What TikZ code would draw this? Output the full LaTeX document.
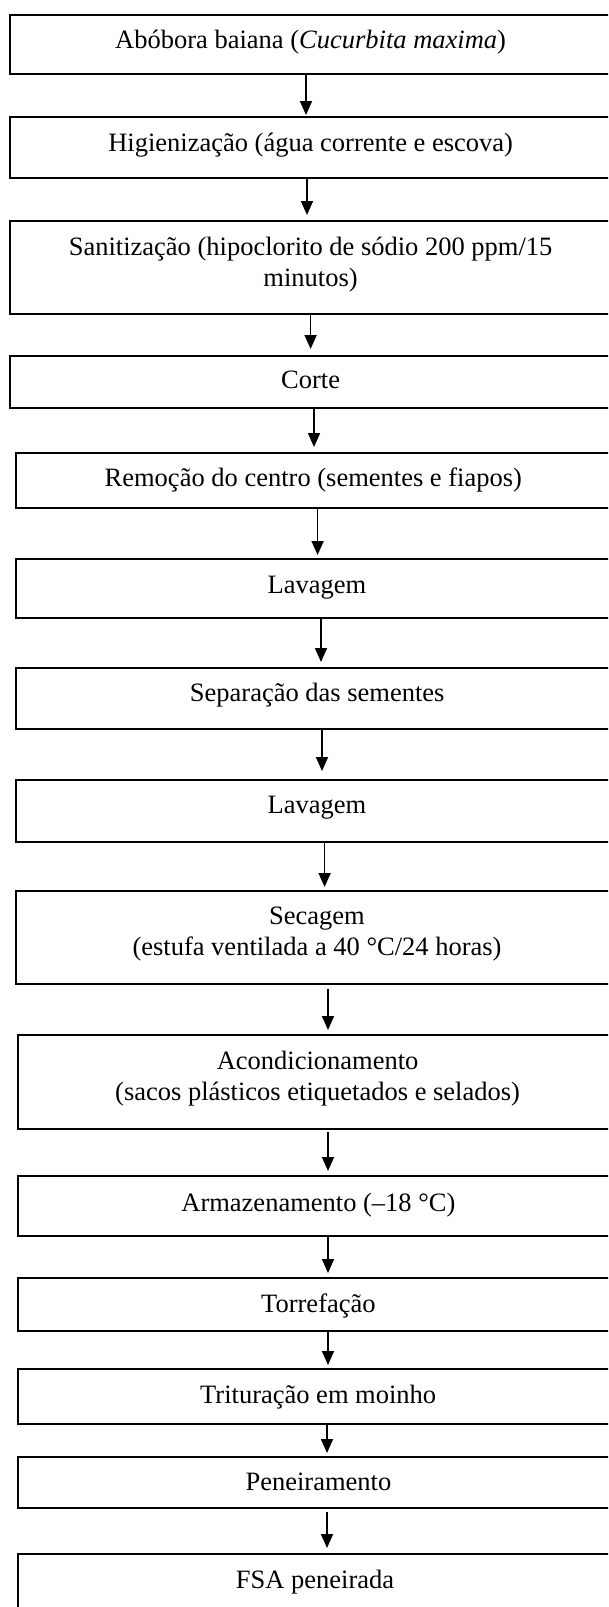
\documentclass[tikz,border=0pt]{standalone}
\usepackage{fontspec}
\setmainfont{Liberation Serif}
\usetikzlibrary{arrows.meta}
\begin{document}
\begin{tikzpicture}[x=1pt,y=-1pt,
  box/.style={draw=black, line width=1.7pt, anchor=north west, inner sep=0pt, minimum width=640pt},
  lbl/.style={anchor=base, inner sep=0pt, align=center, font=\fontsize{26.5}{31}\selectfont},
  arr/.style={line width=1.7pt, -{Triangle[length=14pt,width=12pt]}}]
\useasboundingbox (0,0) rectangle (608,1607);
\clip (0,0) rectangle (608,1607);
% boxes
\node[box, minimum height=59pt] (b1) at (9,14) {};
\node[box, minimum height=61pt] (b2) at (9,116) {};
\node[box, minimum height=93pt] (b3) at (9,220) {};
\node[box, minimum height=52pt] (b4) at (9,355) {};
\node[box, minimum height=55pt] (b5) at (15,452) {};
\node[box, minimum height=59pt] (b6) at (15,558) {};
\node[box, minimum height=61pt] (b7) at (15,667) {};
\node[box, minimum height=62pt] (b8) at (15,779) {};
\node[box, minimum height=93pt] (b9) at (15,890) {};
\node[box, minimum height=94pt] (b10) at (17,1034) {};
\node[box, minimum height=60pt] (b11) at (17,1175) {};
\node[box, minimum height=53pt] (b12) at (17,1277) {};
\node[box, minimum height=55pt] (b13) at (17,1368) {};
\node[box, minimum height=51pt] (b14) at (17,1456) {};
\node[box, minimum height=80pt] (b15) at (17,1553) {};
% labels
\node[lbl] (t1) at (310.6,48.3) {Abóbora baiana (\textit{Cucurbita maxima})};
\node[lbl] (t2) at (310.6,151.7) {Higienização (água corrente e escova)};
\node[lbl] (t3) at (310.6,286) {Sanitização (hipoclorito de sódio 200 ppm/15\\minutos)};
\node[lbl] (t4) at (310.6,388.3) {Corte};
\node[lbl] (t5) at (313.3,486.7) {Remoção do centro (sementes e fiapos)};
\node[lbl] (t6) at (317,593.3) {Lavagem};
\node[lbl] (t7) at (317.2,701.7) {Separação das sementes};
\node[lbl] (t8) at (317,813.3) {Lavagem};
\node[lbl] (t9) at (317,955) {Secagem\\(estufa ventilada a 40 °C/24 horas)};
\node[lbl] (t10) at (317.6,1100) {Acondicionamento\\(sacos plásticos etiquetados e selados)};
\node[lbl] (t11) at (318.4,1211.7) {Armazenamento (–18 °C)};
\node[lbl] (t12) at (318.4,1312.7) {Torrefação};
\node[lbl] (t13) at (318.2,1403.3) {Trituração em moinho};
\node[lbl] (t14) at (318.4,1490) {Peneiramento};
\node[lbl] (t15) at (315,1588.3) {FSA peneirada};
% arrows
\draw[arr, shorten >=1pt] (b1.south -| 306,0) -- (b2.north -| 306,0);
\draw[arr, shorten >=5pt] (b2.south -| 307,0) -- (b3.north -| 307,0);
\draw[arr, shorten >=6pt] (b3.south -| 310.6,0) -- (b4.north -| 310.6,0);
\draw[arr, shorten >=5pt] (b4.south -| 314,0) -- (b5.north -| 314,0);
\draw[arr, shorten >=3pt] (b5.south -| 317.6,0) -- (b6.north -| 317.6,0);
\draw[arr, shorten >=5pt] (b6.south -| 321,0) -- (b7.north -| 321,0);
\draw[arr, shorten >=8pt] (b7.south -| 322,0) -- (b8.north -| 322,0);
\draw[arr, shorten >=3pt] (b8.south -| 324.6,0) -- (b9.north -| 324.6,0);
\draw[arr, shorten <=4pt, shorten >=4pt] (b9.south -| 328,0) -- (b10.north -| 328,0);
\draw[arr, shorten <=2pt, shorten >=4pt] (b10.south -| 328,0) -- (b11.north -| 328,0);
\draw[arr, shorten >=4pt] (b11.south -| 328,0) -- (b12.north -| 328,0);
\draw[arr, shorten >=3pt] (b12.south -| 328,0) -- (b13.north -| 328,0);
\draw[arr, shorten >=3pt] (b13.south -| 327,0) -- (b14.north -| 327,0);
\draw[arr, shorten <=3pt, shorten >=5pt] (b14.south -| 327,0) -- (b15.north -| 327,0);
\end{tikzpicture}
\end{document}
